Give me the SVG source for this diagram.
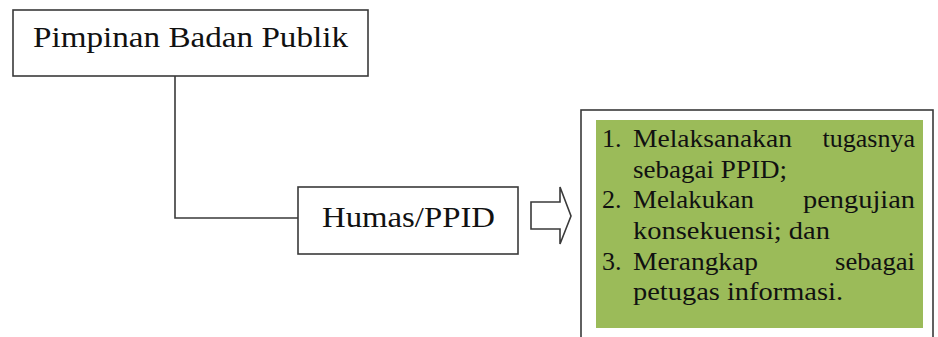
<svg xmlns="http://www.w3.org/2000/svg" width="938" height="337" viewBox="0 0 938 337">
<style>
.box{fill:#fff;stroke:#3a3a3a;stroke-width:1.6}
.conn{fill:none;stroke:#3a3a3a;stroke-width:1.6}
.t{font-family:"Liberation Serif","Times New Roman",serif;fill:#111}
.li{font-size:26px}
.end{text-anchor:end}
</style>
<rect width="938" height="337" fill="#fff"/>
<g id="connectors">
<polyline class="conn" points="175,76 175,218 298,218"/>
<polygon class="box" points="531,202 560,202 560,187 571,216 560,244 560,229 531,229"/>
</g>
<g id="pimpinan">
<rect class="box" x="13" y="10" width="355" height="66"/>
<text class="t" x="33" y="47" font-size="29" textLength="315" lengthAdjust="spacingAndGlyphs">Pimpinan Badan Publik</text>
</g>
<g id="humas">
<rect class="box" x="298" y="187" width="220" height="67"/>
<text class="t" x="322" y="227" font-size="30" textLength="173" lengthAdjust="spacingAndGlyphs">Humas/PPID</text>
</g>
<g id="tugas">
<rect class="box" x="581" y="110" width="352" height="240"/>
<rect x="596" y="120" width="327" height="208" fill="#9bbb59"/>
<text class="t li" x="602" y="147">1.</text>
<text class="t li" x="633" y="147" textLength="159" lengthAdjust="spacingAndGlyphs">Melaksanakan</text>
<text class="t li end" x="915" y="147">tugasnya</text>
<text class="t li" x="633" y="177.5" textLength="154" lengthAdjust="spacingAndGlyphs">sebagai PPID;</text>
<text class="t li" x="602" y="208">2.</text>
<text class="t li" x="633" y="208" textLength="121" lengthAdjust="spacingAndGlyphs">Melakukan</text>
<text class="t li" x="803" y="208" textLength="112" lengthAdjust="spacingAndGlyphs">pengujian</text>
<text class="t li" x="633" y="239" textLength="197" lengthAdjust="spacingAndGlyphs">konsekuensi; dan</text>
<text class="t li" x="602" y="269.5">3.</text>
<text class="t li" x="633" y="269.5" textLength="125" lengthAdjust="spacingAndGlyphs">Merangkap</text>
<text class="t li" x="835" y="269.5" textLength="80" lengthAdjust="spacingAndGlyphs">sebagai</text>
<text class="t li" x="633" y="300" textLength="210" lengthAdjust="spacingAndGlyphs">petugas informasi.</text>
</g>
</svg>
